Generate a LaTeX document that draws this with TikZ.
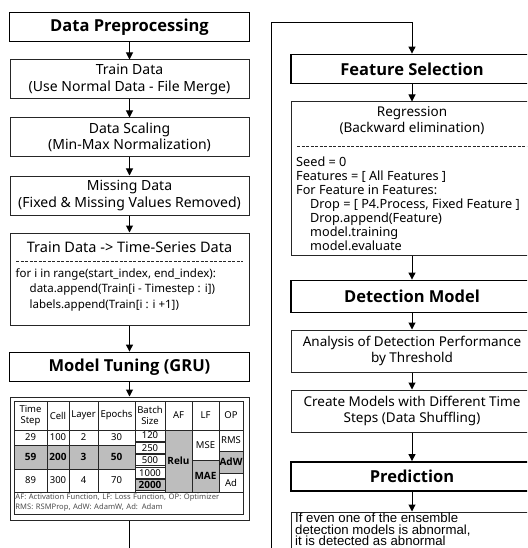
\documentclass[tikz,border=0pt]{standalone}
\usepackage{fontspec}
\setmainfont{Noto Sans}
\newfontfamily\headfont{Open Sans}
\newfontfamily\notefont{Liberation Sans}
\usetikzlibrary{arrows.meta,positioning}
\definecolor{cellgray}{gray}{0.74}
\definecolor{framegray}{gray}{0.15}
\tikzset{headbox/.style={draw,line width=1.8pt,minimum width=240,minimum height=29,inner sep=0,font=\headfont\bfseries\fontsize{16.5}{18}\selectfont},
    stepbox/.style={draw=framegray,line width=1pt,minimum width=239,inner sep=0,align=center,font=\fontsize{14}{16.5}\selectfont},
    codetext/.style={anchor=north west,inner sep=0,align=left,font=\fontsize{11.5}{15.5}\selectfont},
    flow/.style={-{Triangle[length=7pt,width=7pt]},line width=1pt},
    tcell/.style={draw=framegray,line width=0.7pt,inner sep=0,align=center,font=\fontsize{9.5}{10.5}\selectfont},
    tbold/.style={fill=cellgray,font=\headfont\bfseries\fontsize{10}{10.5}\selectfont}
}

\begin{document}
\begin{tikzpicture}[x=1pt,y=-1pt]
\useasboundingbox (0,0) rectangle (527,548);
\clip (0,0) rectangle (527,548);

% left column: preprocessing

\node (prep) [headbox] at (129.5,27) {Data Preprocessing};
\node (train) [stepbox,minimum height=39] at (129.5,79.5) {Train Data\\(Use Normal Data - File Merge)};
\node (scale) [stepbox,minimum height=39] at (129.5,137.5) {Data Scaling\\(Min-Max Normalization)};
\node (miss) [stepbox,minimum height=39] at (129.5,195.5) {Missing Data\\(Fixed \& Missing Values Removed)};
\node (tsbox) [stepbox,minimum height=92] at (129.5,279) {};
\node (tstitle) [font=\fontsize{14.5}{15}\selectfont,inner sep=0] at (129.5,247) {Train Data -> Time-Series Data};
\draw [dash pattern=on 3pt off 1.5pt,framegray] (16,261) -- (243,261);
\node (tscode) [codetext] at (15.5,268) {for i in range(start\_index, end\_index):\\
    \hspace{14pt}data.append(Train[i - Timestep : i])\\
    \hspace{14pt}labels.append(Train[i : i +1])};

\draw [flow] (prep) -- (train);
\draw [flow] (train) -- (scale);
\draw [flow] (scale) -- (miss);
\draw [flow] (miss) -- (tsbox);

% model tuning table

\node (tune) [headbox] at (129.5,367) {Model Tuning (GRU)};
\node (tabframe) [draw=framegray,line width=1pt,minimum width=239,minimum height=123,inner sep=0] at (129.5,458.5) {};
\draw [flow] (tsbox) -- (tune);
\draw [flow] (tune) -- (tabframe);

\foreach \cx/\cw/\txt [count=\i] in {30.5/33/{Time\\Step},58/22/Cell,83.5/29/Layer,116.5/37/Epochs,150/30/{Batch\\Size},178.5/27/AF,205.5/27/LF,231/24/OP}
    \node (head\i) [tcell,minimum width=\cw,minimum height=29] at (\cx,415.5) {\txt};

\foreach \cx/\cw/\a/\b/\c [count=\i] in {30.5/33/29/59/89,58/22/100/200/300,83.5/29/2/3/4,116.5/37/30/50/70}
{
    \node (low\i) [tcell,minimum width=\cw,minimum height=15] at (\cx,437.5) {\a};
    \node (mid\i) [tcell,tbold,minimum width=\cw,minimum height=24] at (\cx,457) {\b};
    \node (high\i) [tcell,minimum width=\cw,minimum height=23] at (\cx,480.5) {\c};
}

\foreach \bs [count=\k] in {120,250,500,1000}
    \node (batch\k) [tcell,minimum width=30,minimum height=11] at (150,423.1+12.4*\k) {\bs};
\node (batch5) [tcell,tbold,minimum width=30,minimum height=11] at (150,485.1) {2000};

\node (relu) [tcell,tbold,minimum width=27,minimum height=62] at (178.5,461) {Relu};
\node (mse) [tcell,minimum width=27,minimum height=30] at (205.5,445) {MSE};
\node (mae) [tcell,tbold,minimum width=27,minimum height=32] at (205.5,476) {MAE};
\node (rms) [tcell,minimum width=24,minimum height=21] at (231,440.5) {RMS};
\node (adw) [tcell,tbold,minimum width=24,minimum height=22] at (231,462) {AdW};
\node (ad) [tcell,minimum width=24,minimum height=19] at (231,482.5) {Ad};

\node (legend) [tcell,minimum width=229,minimum height=22,text width=226,align=left,text=black!70,font=\fontsize{7.6}{10}\selectfont] at (128.5,503)
    {AF: Activation Function, LF: Loss Function, OP: Optimizer\\RMS: RSMProp, AdW: AdamW, Ad: Adam};

% loop back to feature selection

\coordinate (loopout) at (129.5,560);
\coordinate (loopin) at (271,560);
\draw [line width=1pt] (tabframe) -- (loopout);

% right column: feature selection and detection

\node (fsel) [headbox,minimum width=242] at (412,69) {Feature Selection};
\draw [flow] (loopin) |- (412,23) -- (fsel);

\node (regbox) [stepbox,minimum width=242,minimum height=153] at (412,178.5) {};
\node (regtitle) [font=\fontsize{13.5}{16}\selectfont,align=center,inner sep=0] at (412,121) {Regression\\(Backward elimination)};
\draw [dash pattern=on 3pt off 1.5pt,framegray] (297,146) -- (540,146);
\node (regcode) [codetext,font=\fontsize{12.7}{13.9}\selectfont] at (296,157) {Seed = 0\\
    Features = [ All Features ]\\
    For Feature in Features:\\
    \hspace{14pt}Drop = [ P4.Process, Fixed Feature ]\\
    \hspace{14pt}Drop.append(Feature)\\
    \hspace{14pt}model.training\\
    \hspace{14pt}model.evaluate};
\draw [flow] (fsel) -- (regbox);

\node (detm) [headbox,minimum width=242,minimum height=32] at (412,296.5) {Detection Model};
\node (anal) [stepbox,minimum width=242,minimum height=42,font=\fontsize{13.5}{16.5}\selectfont] at (412,351) {Analysis of Detection Performance\\by Threshold};
\node (create) [stepbox,minimum width=242,minimum height=42,font=\fontsize{13.5}{16.5}\selectfont] at (412,411) {Create Models with Different Time\\Steps (Data Shuffling)};
\node (pred) [headbox,minimum width=242] at (412,476.5) {Prediction};
\node (ens) [stepbox,minimum width=242,minimum height=60] at (412,542) {};
\node (enstext) [anchor=north west,inner sep=0,align=left,font=\notefont\fontsize{13.2}{11.3}\selectfont] at (295,513)
    {If even one of the ensemble\\detection models is abnormal,\\it is detected as abnormal};

\draw [flow] (regbox) -- (detm);
\draw [flow] (detm) -- (anal);
\draw [flow] (anal) -- (create);
\draw [flow] (create) -- (pred);
\draw [flow] (pred) -- (ens);

\end{tikzpicture}
\end{document}
